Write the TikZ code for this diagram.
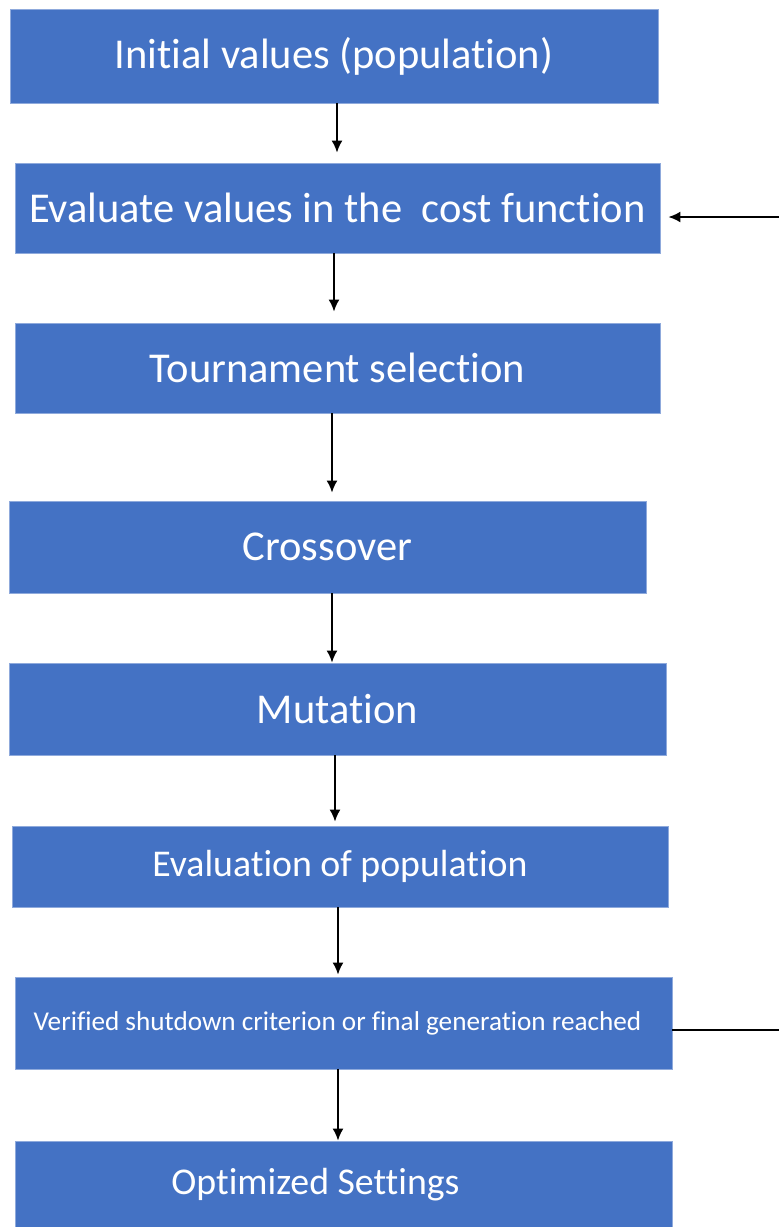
\documentclass[tikz,border=0pt]{standalone}
\usepackage{fontspec}
\setmainfont{Carlito}[Ligatures=NoCommon]
\usetikzlibrary{arrows.meta}
\definecolor{boxblue}{RGB}{68,114,196}
\definecolor{boxedge}{RGB}{143,170,220}
\tikzset{
  stage/.style={rectangle,fill=boxblue,draw=boxedge,line width=0.8pt,
    text=white,inner sep=0pt,minimum width=#1},
  big/.style={font=\fontsize{42.5}{46}\selectfont},
  mid/.style={font=\fontsize{37.8}{42}\selectfont},
  small/.style={font=\fontsize{27.2}{30}\selectfont},
  flow/.style={-{Latex[length=12pt,width=11pt]},line width=1.8pt},
  back/.style={line width=1.8pt}
}

\begin{document}
\begin{tikzpicture}[x=1pt,y=-1pt]
  \useasboundingbox (0,0) rectangle (779,1227);
  % the steps of the genetic algorithm
  \node (init) at (334,56) [stage=648pt,minimum height=94pt,big] {Initial values (population)};
  \node (eval) at (337.5,208) [stage=645pt,minimum height=90pt,big] {Evaluate values in the\ \ cost function};
  \node (tour) at (337.5,368) [stage=645pt,minimum height=90pt,big] {Tournament selection};
  \node (cross) at (327.5,547) [stage=637pt,minimum height=92pt,big] {Crossover};
  \node (mut) at (337.5,709) [stage=657pt,minimum height=92pt,big] {Mutation};
  \node (evalpop) at (340,866.5) [stage=656pt,minimum height=81pt,mid] {Evaluation of population};
  % these two labels sit a bit left of the box centre
  \node (check) at (343.5,1023) [stage=657pt,minimum height=92pt,small] {Verified shutdown criterion or final generation reached\hspace*{12pt}};
  \node (opt) at (343.5,1185) [stage=657pt,minimum height=88pt,mid] {Optimized Settings\hspace*{56pt}};
  % main flow
  \draw[flow,shorten >=10pt] ([xshift=3pt]init.south) -- ([xshift=-0.5pt]eval.north);
  \draw[flow,shorten >=11pt] ([xshift=-3.5pt]eval.south) -- ([xshift=-3.5pt]tour.north);
  \draw[flow,shorten >=8pt] ([xshift=-5.5pt]tour.south) -- ([xshift=4.5pt]cross.north);
  \draw[flow] ([xshift=4.5pt]cross.south) -- ([xshift=-5.5pt]mut.north);
  \draw[flow,shorten >=4pt] ([xshift=-2.5pt]mut.south) -- ([xshift=-5pt]evalpop.north);
  \draw[flow,shorten >=2pt] ([xshift=-2pt]evalpop.south) -- ([xshift=-5.5pt]check.north);
  \draw[flow] ([xshift=-5.5pt]check.south) -- ([xshift=-5.5pt]opt.north);
  % loop back to the cost function
  \coordinate (out) at (779,1030);
  \coordinate (in) at (779,217);
  \draw[back] ([yshift=-7pt]check.east) -- (out);
  \draw[flow,shorten >=8pt] (in) -- ([yshift=-9pt]eval.east);
\end{tikzpicture}
\end{document}
